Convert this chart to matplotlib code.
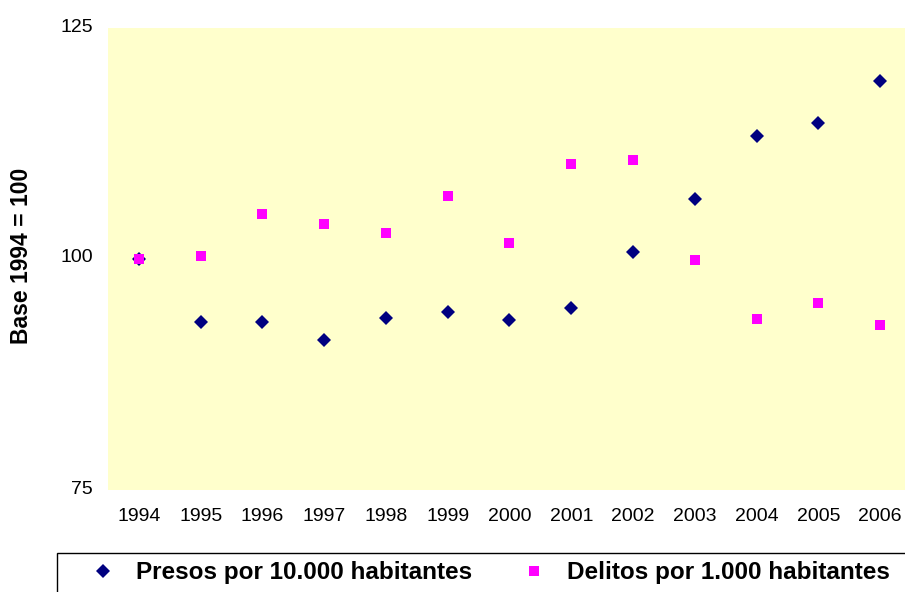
import matplotlib.pyplot as plt
from matplotlib.patches import Rectangle
from matplotlib.transforms import ScaledTranslation

plt.rcParams["font.family"] = ["Liberation Sans", "DejaVu Sans"]

# datos: indice base 1994 = 100
years = [1994, 1995, 1996, 1997, 1998, 1999, 2000,
         2001, 2002, 2003, 2004, 2005, 2006]
presos = [100.0, 93.2, 93.2, 91.2, 93.6, 94.3, 93.4,
          94.7, 100.8, 106.5, 113.3, 114.7, 119.3]
delitos = [100.0, 100.3, 104.9, 103.8, 102.8, 106.8, 101.7,
           110.3, 110.7, 99.9, 93.5, 95.2, 92.9]

label_presos = "Presos por 10.000 habitantes"
label_delitos = "Delitos por 1.000 habitantes"

W, H = 905, 592
fig = plt.figure(figsize=(W / 100, H / 100), dpi=100)
ax = fig.add_axes([108 / W, 1 - 490 / H, 803 / W, 462 / H])
ax.set_facecolor("#FFFFCC")

ax.plot(years, presos, linestyle="none", marker="D", markersize=7.6,
        color="#000080", markeredgewidth=0, label=label_presos)
ax.plot(years, delitos, linestyle="none", marker="s", markersize=7.6,
        color="#FF00FF", markeredgewidth=0, label=label_delitos)

ax.set_xlim(1993.5, 2006.5)
ax.set_ylim(75, 125)
ax.set_xticks(years)
ax.set_yticks([75, 100, 125])
ax.tick_params(length=0, labelsize=14)
ax.tick_params(axis="x", pad=13)
ax.tick_params(axis="y", pad=11)
for s in ax.spines.values():
    s.set_visible(False)

# las etiquetas del eje y quedan un poco por encima de su valor
shift = ScaledTranslation(0, 3 / 100, fig.dpi_scale_trans)
for lab in ax.get_yticklabels():
    lab.set_transform(lab.get_transform() + shift)

fig.text(21 / W, 1 - 256 / H, "Base 1994 = 100", rotation=90,
         ha="center", va="center", fontsize=16.5, fontweight="bold")

# leyenda inferior
handles, labels = ax.get_legend_handles_labels()
fig.legend(handles, labels, loc="center left", ncol=2,
           bbox_to_anchor=(91 / W, 1 - 573 / H), frameon=False,
           borderpad=0, borderaxespad=0, handlelength=1.0,
           handletextpad=0.85, columnspacing=2.05,
           prop={"size": 17.5, "weight": "bold"})
fig.add_artist(Rectangle((57 / W, -0.05), 0.99, 0.05 + 1 - 553 / H,
                         transform=fig.transFigure, fill=False,
                         edgecolor="black", linewidth=1.0))

fig.savefig("out.png", dpi=100)
